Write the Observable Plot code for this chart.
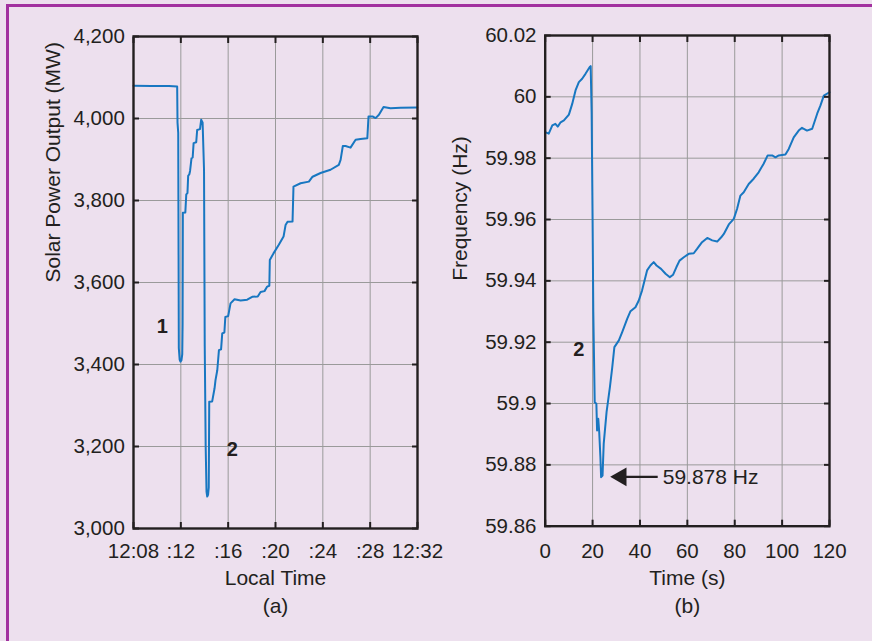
<!DOCTYPE html>
<html><head><meta charset="utf-8">
<script src="https://cdn.jsdelivr.net/npm/d3@7"></script>
<script src="https://cdn.jsdelivr.net/npm/@observablehq/plot@0.6"></script>
<style>
html,body{margin:0;padding:0;background:#ede0ee;}
#page{position:relative;width:872px;height:641px;background:#ede0ee;overflow:hidden;}
#bt{position:absolute;left:6px;top:4px;width:866px;height:3px;background:#a2319f;}
#bl{position:absolute;left:6px;top:4px;width:3px;height:637px;background:#a2319f;}
.chart{position:absolute;top:0;}
</style></head><body>
<div id="page"><div id="bt"></div><div id="bl"></div><div id="a" class="chart" style="left:0px"></div><div id="b" class="chart" style="left:436px"></div></div>
<script>
// ---- Panel (a): solar power output ----
const solarMinutes = [8.00, 9.50, 11.00, 11.69, 11.72, 11.78, 11.83, 11.90, 11.97, 12.05, 12.12, 12.15, 12.17, 12.38, 12.46, 12.56, 12.62, 12.72, 12.78, 12.90, 13.00, 13.08, 13.30, 13.38, 13.62, 13.72, 13.78, 13.84, 13.96, 14.02, 14.10, 14.17, 14.23, 14.30, 14.36, 14.40, 14.65, 14.85, 14.93, 15.08, 15.22, 15.40, 15.50, 15.68, 15.76, 16.00, 16.20, 16.54, 17.05, 17.61, 18.03, 18.50, 18.74, 19.07, 19.30, 19.48, 19.52, 19.83, 20.28, 20.68, 20.85, 21.02, 21.44, 21.52, 22.12, 22.82, 23.13, 23.81, 24.65, 25.35, 25.50, 25.69, 25.92, 26.34, 26.77, 27.19, 27.76, 27.86, 28.20, 28.46, 28.74, 29.13, 29.72, 30.57, 31.98];
const solarMW = [4080, 4079, 4079, 4078, 3990, 3965, 3440, 3412, 3407, 3410, 3425, 3500, 3770, 3771, 3815, 3818, 3860, 3864, 3872, 3903, 3905, 3940, 3942, 3972, 3974, 3997, 3993, 3990, 3875, 3445, 3200, 3090, 3078, 3082, 3100, 3309, 3310, 3342, 3362, 3386, 3435, 3437, 3476, 3478, 3516, 3518, 3549, 3559, 3556, 3558, 3565, 3566, 3577, 3579, 3590, 3592, 3655, 3671, 3692, 3712, 3740, 3748, 3749, 3834, 3842, 3846, 3858, 3867, 3875, 3887, 3899, 3933, 3933, 3929, 3948, 3950, 3952, 4005, 4005, 4001, 4009, 4028, 4025, 4026, 4027];
const timeTicks = [8, 12, 16, 20, 24, 28, 32];
const timeTickLabels = ["12:08", ":12", ":16", ":20", ":24", ":28", "12:32"];
const mwTicks = [3000, 3200, 3400, 3600, 3800, 4000, 4200];
const eventLabelsA = ["1", "2"];
const eventMinutesA = [10.43, 16.34];
const eventMWA = [3492, 3193];

// ---- Panel (b): frequency ----
const freqSeconds = [0, 1.5, 3.0, 4.3, 5.3, 6.5, 7.9, 10.0, 11.4, 12.8, 14.2, 15.6, 17.0, 18.8, 19.2, 19.6, 20.0, 20.3, 20.6, 20.9, 21.6, 21.9, 22.2, 22.4, 22.8, 23.3, 23.6, 24.2, 24.7, 25.9, 27.3, 28.3, 29.2, 31.1, 32.5, 34.6, 36.0, 38.1, 39.5, 40.9, 43.0, 44.4, 45.8, 47.0, 48.9, 50.8, 52.6, 54.0, 55.4, 56.7, 58.5, 60.6, 62.7, 64.1, 66.2, 68.4, 70.5, 72.6, 74.3, 75.4, 77.5, 79.6, 81.0, 82.4, 83.8, 85.9, 88.0, 90.1, 92.2, 93.9, 95.8, 97.2, 98.6, 101.4, 102.8, 104.9, 107.0, 108.4, 110.5, 112.7, 114.8, 116.2, 117.6, 120.0];
const freqHz = [59.9885, 59.9880, 59.9907, 59.9912, 59.9903, 59.9917, 59.9923, 59.9942, 59.9977, 60.0021, 60.0048, 60.0059, 60.0075, 60.0097, 60.0100, 59.9950, 59.9600, 59.9300, 59.9150, 59.9004, 59.8999, 59.8912, 59.8935, 59.8950, 59.8907, 59.8825, 59.8760, 59.8765, 59.8869, 59.8972, 59.9053, 59.9118, 59.9184, 59.9206, 59.9233, 59.9276, 59.9301, 59.9314, 59.9336, 59.9369, 59.9434, 59.9450, 59.9461, 59.9450, 59.9439, 59.9423, 59.9412, 59.9420, 59.9445, 59.9466, 59.9477, 59.9488, 59.9490, 59.9504, 59.9526, 59.9540, 59.9532, 59.9528, 59.9542, 59.9553, 59.9584, 59.9602, 59.9635, 59.9678, 59.9689, 59.9716, 59.9733, 59.9754, 59.9782, 59.9809, 59.9809, 59.9803, 59.9809, 59.9812, 59.9830, 59.9868, 59.9890, 59.9899, 59.9890, 59.9896, 59.9945, 59.9972, 60.0004, 60.0015];
const secTicks = [0, 20, 40, 60, 80, 100, 120];
const hzTicks = [59.86, 59.88, 59.9, 59.92, 59.94, 59.96, 59.98, 60, 60.02];
const hzTickLabels = ["59.86", "59.88", "59.9", "59.92", "59.94", "59.96", "59.98", "60", "60.02"];
const eventLabelsB = ["2"];
const eventSecondsB = [14.2];
const eventHzB = [59.9175];
const nadirLabel = ["59.878 Hz"];
const arrowTipSec = [27.8];
const arrowTailSec = [45.8];
const arrowHz = [59.8761];
const nadirTextSec = [49.6];

const FONT = '"Liberation Sans", Arial, Helvetica, sans-serif';
const LINE = "#1877c1";
const INK = "#231f20";
const GRID = "#9a9a9a";

const solar = solarMinutes.map((t, i) => ({t, mw: solarMW[i]}));
const evA = eventLabelsA.map((l, i) => ({label: l, t: eventMinutesA[i], mw: eventMWA[i]}));
const freq = freqSeconds.map((s, i) => ({s, hz: freqHz[i]}));
const evB = eventLabelsB.map((l, i) => ({label: l, s: eventSecondsB[i], hz: eventHzB[i]}));
const arrows = arrowTipSec.map((t, i) => ({tip: t, tail: arrowTailSec[i], hz: arrowHz[i], textS: nadirTextSec[i], label: nadirLabel[i]}));

const baseStyle = {fontFamily: FONT, fontSize: "20.5px", color: INK, background: "transparent", overflow: "visible"};

const chartA = Plot.plot({
  width: 440, height: 641,
  marginLeft: 133, marginRight: 23, marginTop: 36, marginBottom: 113,
  style: baseStyle,
  x: {domain: [8, 32]},
  y: {domain: [3000, 4200]},
  marks: [
    Plot.gridX(timeTicks, {stroke: GRID, strokeOpacity: 1, strokeWidth: 1}),
    Plot.gridY(mwTicks, {stroke: GRID, strokeOpacity: 1, strokeWidth: 1}),
    Plot.line(solar, {x: "t", y: "mw", stroke: LINE, strokeWidth: 2}),
    Plot.frame({stroke: INK, strokeWidth: 2.4}),
    Plot.axisX(timeTicks, {anchor: "bottom", tickSize: -6, tickPadding: 20.7, strokeWidth: 2, stroke: INK, label: null,
      tickFormat: d => timeTickLabels[timeTicks.indexOf(d)]}),
    Plot.axisX(timeTicks, {anchor: "top", tickSize: -6, strokeWidth: 2, stroke: INK, label: null, tickFormat: () => ""}),
    Plot.axisY(mwTicks, {anchor: "left", tickSize: -6, tickPadding: 14.7, strokeWidth: 2, stroke: INK, label: null,
      tickFormat: d3.format(",")}),
    Plot.axisY(mwTicks, {anchor: "right", tickSize: -6, strokeWidth: 2, stroke: INK, label: null, tickFormat: () => ""}),
    Plot.text(["Local Time"], {frameAnchor: "bottom", dy: 56, fontSize: 21, fill: INK}),
    Plot.text(["(a)"], {frameAnchor: "bottom", dy: 84, fontSize: 21, fill: INK}),
    Plot.text(["Solar Power Output (MW)"], {frameAnchor: "left", dx: -80, rotate: -90, fontSize: 21, fill: INK}),
    Plot.text(evA, {x: "t", y: "mw", text: "label", fontWeight: "bold", fontSize: 20, fill: INK})
  ]
});
document.getElementById("a").append(chartA);

const chartB = Plot.plot({
  width: 436, height: 641,
  marginLeft: 108.7, marginRight: 43, marginTop: 35, marginBottom: 115.3,
  style: baseStyle,
  x: {domain: [0, 120]},
  y: {domain: [59.86, 60.02]},
  marks: [
    Plot.gridX(secTicks, {stroke: GRID, strokeOpacity: 1, strokeWidth: 1}),
    Plot.gridY(hzTicks, {stroke: GRID, strokeOpacity: 1, strokeWidth: 1}),
    Plot.line(freq, {x: "s", y: "hz", stroke: LINE, strokeWidth: 2}),
    Plot.frame({stroke: INK, strokeWidth: 2.4}),
    Plot.axisX(secTicks, {anchor: "bottom", tickSize: -6, tickPadding: 23, strokeWidth: 2, stroke: INK, label: null,
      tickFormat: d => String(d)}),
    Plot.axisX(secTicks, {anchor: "top", tickSize: -6, strokeWidth: 2, stroke: INK, label: null, tickFormat: () => ""}),
    Plot.axisY(hzTicks, {anchor: "left", tickSize: -6, tickPadding: 14.7, strokeWidth: 2, stroke: INK, label: null,
      tickFormat: d => hzTickLabels[hzTicks.indexOf(d)]}),
    Plot.axisY(hzTicks, {anchor: "right", tickSize: -6, strokeWidth: 2, stroke: INK, label: null, tickFormat: () => ""}),
    Plot.text(["Time (s)"], {frameAnchor: "bottom", dy: 58.3, fontSize: 21, fill: INK}),
    Plot.text(["(b)"], {frameAnchor: "bottom", dy: 86.3, fontSize: 21, fill: INK}),
    Plot.text(["Frequency (Hz)"], {frameAnchor: "left", dx: -85, rotate: -90, fontSize: 21, fill: INK}),
    Plot.text(evB, {x: "s", y: "hz", text: "label", fontWeight: "bold", fontSize: 20, fill: INK}),
    Plot.link(arrows, {x1: "tail", x2: "tip", y1: "hz", y2: "hz", stroke: INK, strokeWidth: 2.2, dx: 4}),
    Plot.dot(arrows, {x: "tip", y: "hz", symbol: "triangle", r: 7, rotate: -90, fill: INK, stroke: "none", dx: 10}),
    Plot.text(arrows, {x: "textS", y: "hz", text: "label", textAnchor: "start", fontSize: 21, fill: INK})
  ]
});
document.getElementById("b").append(chartB);
</script>
</body></html>
